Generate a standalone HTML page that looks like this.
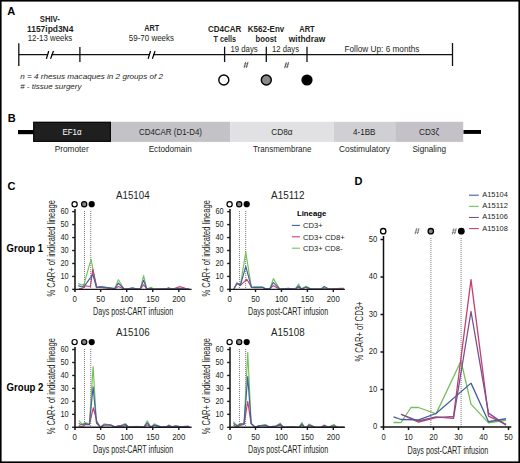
<!DOCTYPE html>
<html><head><meta charset="utf-8"><style>
html,body{margin:0;padding:0;background:#fff;}
body{width:520px;height:463px;overflow:hidden;}
svg{display:block;font-family:"Liberation Sans", sans-serif;}
</style></head><body>
<svg width="520" height="463" viewBox="0 0 520 463">
<rect width="520" height="463" fill="#fff"/>
<text x="7.2" y="14.9" font-size="11" font-weight="bold" fill="#000">A</text>
<text x="49.8" y="22.0" font-size="8.2" text-anchor="middle" font-weight="bold" textLength="20" lengthAdjust="spacingAndGlyphs" fill="#231f20">SHIV-</text>
<text x="50.2" y="32.3" font-size="8.2" text-anchor="middle" font-weight="bold" textLength="46.4" lengthAdjust="spacingAndGlyphs" fill="#231f20">1157ipd3N4</text>
<text x="50.0" y="41.2" font-size="8.2" text-anchor="middle" textLength="44.6" lengthAdjust="spacingAndGlyphs" fill="#231f20">12-13 weeks</text>
<text x="151.7" y="31.4" font-size="8.2" text-anchor="middle" font-weight="bold" textLength="15" lengthAdjust="spacingAndGlyphs" fill="#231f20">ART</text>
<text x="151.4" y="41.2" font-size="8.2" text-anchor="middle" textLength="45.2" lengthAdjust="spacingAndGlyphs" fill="#231f20">59-70 weeks</text>
<text x="224.7" y="32.3" font-size="8.2" text-anchor="middle" font-weight="bold" textLength="33.3" lengthAdjust="spacingAndGlyphs" fill="#231f20">CD4CAR</text>
<text x="224.8" y="42.0" font-size="8.2" text-anchor="middle" font-weight="bold" textLength="22.5" lengthAdjust="spacingAndGlyphs" fill="#231f20">T cells</text>
<text x="266.0" y="32.3" font-size="8.2" text-anchor="middle" font-weight="bold" textLength="36.5" lengthAdjust="spacingAndGlyphs" fill="#231f20">K562-Env</text>
<text x="266.0" y="42.0" font-size="8.2" text-anchor="middle" font-weight="bold" textLength="21.1" lengthAdjust="spacingAndGlyphs" fill="#231f20">boost</text>
<text x="307.0" y="32.3" font-size="8.2" text-anchor="middle" font-weight="bold" textLength="15.4" lengthAdjust="spacingAndGlyphs" fill="#231f20">ART</text>
<text x="307.0" y="42.0" font-size="8.2" text-anchor="middle" font-weight="bold" textLength="36.5" lengthAdjust="spacingAndGlyphs" fill="#231f20">withdraw</text>
<text x="230.4" y="51.6" font-size="8.2" textLength="27.3" lengthAdjust="spacingAndGlyphs" fill="#231f20">19 days</text>
<text x="272.0" y="51.6" font-size="8.2" textLength="27.0" lengthAdjust="spacingAndGlyphs" fill="#231f20">12 days</text>
<text x="344.5" y="51.7" font-size="8.2" textLength="75.0" lengthAdjust="spacingAndGlyphs" fill="#231f20">Follow Up: 6 months</text>
<g stroke="#111" stroke-width="1.3" fill="none">
<line x1="18.8" y1="54.7" x2="452.5" y2="54.7"/>
<line x1="18.8" y1="43.2" x2="18.8" y2="65.9"/>
<line x1="79.9" y1="47" x2="79.9" y2="62"/>
<line x1="224.6" y1="46.7" x2="224.6" y2="62"/>
<line x1="266.3" y1="46.7" x2="266.3" y2="62"/>
<line x1="307" y1="46.7" x2="307" y2="62"/>
<line x1="452.5" y1="43" x2="452.5" y2="66"/>
</g>
<rect x="48.15" y="52.5" width="3.28" height="4.4" fill="#fff"/>
<g stroke="#000" stroke-width="1.25" stroke-linecap="round"><line x1="46.5" y1="58.4" x2="48.6" y2="51.5"/><line x1="50.75" y1="58.4" x2="53.3" y2="51.5"/></g>
<rect x="149.92" y="52.5" width="3.17" height="4.4" fill="#fff"/>
<g stroke="#000" stroke-width="1.25" stroke-linecap="round"><line x1="148.25" y1="58.4" x2="150.4" y2="51.5"/><line x1="152.5" y1="58.4" x2="154.9" y2="51.5"/></g>
<g stroke="#555" stroke-width="0.95" fill="none"><line x1="244.10" y1="67.90" x2="245.80" y2="61.90"/><line x1="246.30" y1="67.90" x2="248.00" y2="61.90"/><line x1="244.10" y1="63.80" x2="248.40" y2="63.80" stroke-width="0.6"/><line x1="243.60" y1="66.10" x2="247.90" y2="66.10" stroke-width="0.6"/></g>
<g stroke="#555" stroke-width="0.95" fill="none"><line x1="284.70" y1="68.20" x2="286.40" y2="62.20"/><line x1="286.90" y1="68.20" x2="288.60" y2="62.20"/><line x1="284.70" y1="64.10" x2="289.00" y2="64.10" stroke-width="0.6"/><line x1="284.20" y1="66.40" x2="288.50" y2="66.40" stroke-width="0.6"/></g>
<circle cx="223.8" cy="80" r="5" fill="#fff" stroke="#000" stroke-width="1.4"/>
<circle cx="266.3" cy="80" r="5" fill="#888" stroke="#000" stroke-width="1.4"/>
<circle cx="307" cy="80" r="5.6" fill="#000"/>
<text x="20.2" y="79.0" font-size="7.6" font-style="italic" textLength="142.8" lengthAdjust="spacingAndGlyphs" fill="#231f20">n = 4 rhesus macaques in 2 groups of 2</text>
<text x="20.2" y="88.8" font-size="7.6" font-style="italic" textLength="61.3" lengthAdjust="spacingAndGlyphs" fill="#231f20"># - tissue surgery</text>
<text x="7.8" y="122.3" font-size="11" font-weight="bold" fill="#000">B</text>
<rect x="18" y="130" width="16" height="4.2" fill="#000"/>
<rect x="463.4" y="130" width="17.6" height="3.9" fill="#000"/>
<rect x="33.2" y="121.8" width="77.80" height="20.1" fill="#1f1f1f"/>
<rect x="111" y="121.8" width="119.20" height="20.1" fill="#c3c2c7"/>
<rect x="230.2" y="121.8" width="103.80" height="20.1" fill="#e1e1e4"/>
<rect x="334.0" y="121.8" width="61.20" height="20.1" fill="#d0cfd4"/>
<rect x="395.2" y="121.8" width="68.00" height="20.1" fill="#c4c2c8"/>
<rect x="33.8" y="122.4" width="76.6" height="18.9" fill="none" stroke="#0a0a0a" stroke-width="1.2"/>
<text x="72.0" y="134.8" font-size="8.7" text-anchor="middle" textLength="19" lengthAdjust="spacingAndGlyphs" fill="#fff">EF1&#945;</text>
<text x="170.5" y="134.8" font-size="8.7" text-anchor="middle" textLength="63" lengthAdjust="spacingAndGlyphs" fill="#231f20">CD4CAR (D1-D4)</text>
<text x="282.0" y="134.8" font-size="8.7" text-anchor="middle" textLength="21.3" lengthAdjust="spacingAndGlyphs" fill="#231f20">CD8&#945;</text>
<text x="364.2" y="134.8" font-size="8.7" text-anchor="middle" textLength="22.5" lengthAdjust="spacingAndGlyphs" fill="#231f20">4-1BB</text>
<text x="429.0" y="134.8" font-size="8.7" text-anchor="middle" textLength="20" lengthAdjust="spacingAndGlyphs" fill="#231f20">CD3&#950;</text>
<text x="71.7" y="151.6" font-size="8.7" text-anchor="middle" textLength="34.1" lengthAdjust="spacingAndGlyphs" fill="#231f20">Promoter</text>
<text x="170.2" y="151.6" font-size="8.7" text-anchor="middle" textLength="43.1" lengthAdjust="spacingAndGlyphs" fill="#231f20">Ectodomain</text>
<text x="282.2" y="151.6" font-size="8.7" text-anchor="middle" textLength="58.4" lengthAdjust="spacingAndGlyphs" fill="#231f20">Transmembrane</text>
<text x="364.5" y="151.6" font-size="8.7" text-anchor="middle" textLength="51" lengthAdjust="spacingAndGlyphs" fill="#231f20">Costimulatory</text>
<text x="429.2" y="151.6" font-size="8.7" text-anchor="middle" textLength="33.5" lengthAdjust="spacingAndGlyphs" fill="#231f20">Signaling</text>
<text x="7.5" y="189.6" font-size="11" font-weight="bold" fill="#000">C</text>
<text x="6.6" y="252.2" font-size="10.4" font-weight="bold" textLength="36.4" lengthAdjust="spacingAndGlyphs" fill="#000">Group 1</text>
<text x="6.6" y="391.1" font-size="10.4" font-weight="bold" textLength="36.8" lengthAdjust="spacingAndGlyphs" fill="#000">Group 2</text>
<text x="132.8" y="198.8" font-size="10" text-anchor="middle" textLength="33.6" lengthAdjust="spacingAndGlyphs" fill="#231f20">A15104</text>
<text transform="translate(54.6,248.3) rotate(-90)" x="0" y="0" font-size="10.2" text-anchor="middle" textLength="96.3" lengthAdjust="spacingAndGlyphs" fill="#231f20">% CAR+ of indicated lineage</text>
<g stroke="#666" stroke-width="0.9" stroke-dasharray="1 1">
<line x1="84.50" y1="211" x2="84.50" y2="289.40"/>
<line x1="90.75" y1="211" x2="90.75" y2="289.40"/>
</g>
<polyline points="78.25,283.44 81.37,284.86 83.98,284.35 91.06,259.20 96.48,287.46 99.87,286.55 114.72,288.62 118.36,279.68 124.09,289.01 126.70,289.01 132.43,288.36 140.25,289.01 143.63,275.66 146.76,289.01 150.93,287.33 153.79,289.01 168.64,288.62 171.51,289.14 179.32,288.36 185.05,289.01 189.22,289.14" fill="none" stroke="#78bf5a" stroke-width="1.15" stroke-linejoin="round"/>
<polyline points="78.77,288.75 82.21,288.36 85.18,285.77 90.39,286.55 92.78,269.31 96.85,287.33 99.87,287.33 114.72,288.88 118.36,286.55 124.09,289.01 126.70,289.14 132.43,288.75 140.25,289.14 143.63,284.73 146.76,289.01 150.93,288.75 153.79,289.14 168.64,288.75 173.59,288.88 179.32,286.68 184.01,287.72 186.62,289.14 189.22,289.14" fill="none" stroke="#c3416a" stroke-width="1.15" stroke-linejoin="round"/>
<polyline points="78.25,285.64 81.89,286.94 85.02,285.12 92.83,274.37 96.48,287.72 99.87,286.68 114.72,288.62 118.36,283.18 124.09,289.01 126.70,289.01 132.43,287.72 137.12,289.14 140.25,289.01 143.63,280.33 146.76,289.01 150.93,288.62 153.79,289.01 165.77,289.01 168.64,287.84 171.51,289.01 179.32,288.62 185.05,288.88 189.22,289.14" fill="none" stroke="#41609f" stroke-width="1.15" stroke-linejoin="round"/>
<g stroke="#2a2a2a" stroke-width="1.7" fill="none">
<line x1="75.0" y1="209.00" x2="75.0" y2="292.0"/>
</g>
<g stroke="#1a1a1a" stroke-width="1.4" fill="none">
<line x1="74.5" y1="289.4" x2="191.6" y2="289.4"/>
<line x1="72.2" y1="289.40" x2="75.0" y2="289.40"/>
<line x1="72.2" y1="276.44" x2="75.0" y2="276.44"/>
<line x1="72.2" y1="263.48" x2="75.0" y2="263.48"/>
<line x1="72.2" y1="250.52" x2="75.0" y2="250.52"/>
<line x1="72.2" y1="237.56" x2="75.0" y2="237.56"/>
<line x1="72.2" y1="224.60" x2="75.0" y2="224.60"/>
<line x1="72.2" y1="211.64" x2="75.0" y2="211.64"/>
<line x1="100.65" y1="289.4" x2="100.65" y2="292.0"/>
<line x1="126.70" y1="289.4" x2="126.70" y2="292.0"/>
<line x1="152.75" y1="289.4" x2="152.75" y2="292.0"/>
<line x1="178.80" y1="289.4" x2="178.80" y2="292.0"/>
</g>
<text x="68.70" y="292.00" font-size="8.6" text-anchor="end" textLength="4.1" lengthAdjust="spacingAndGlyphs" fill="#231f20">0</text>
<text x="68.70" y="279.04" font-size="8.6" text-anchor="end" textLength="8.2" lengthAdjust="spacingAndGlyphs" fill="#231f20">10</text>
<text x="68.70" y="266.08" font-size="8.6" text-anchor="end" textLength="8.2" lengthAdjust="spacingAndGlyphs" fill="#231f20">20</text>
<text x="68.70" y="253.12" font-size="8.6" text-anchor="end" textLength="8.2" lengthAdjust="spacingAndGlyphs" fill="#231f20">30</text>
<text x="68.70" y="240.16" font-size="8.6" text-anchor="end" textLength="8.2" lengthAdjust="spacingAndGlyphs" fill="#231f20">40</text>
<text x="68.70" y="227.20" font-size="8.6" text-anchor="end" textLength="8.2" lengthAdjust="spacingAndGlyphs" fill="#231f20">50</text>
<text x="68.70" y="214.24" font-size="8.6" text-anchor="end" textLength="8.2" lengthAdjust="spacingAndGlyphs" fill="#231f20">60</text>
<text x="74.60" y="302.20" font-size="8.6" text-anchor="middle" textLength="4.35" lengthAdjust="spacingAndGlyphs" fill="#231f20">0</text>
<text x="100.65" y="302.20" font-size="8.6" text-anchor="middle" textLength="8.7" lengthAdjust="spacingAndGlyphs" fill="#231f20">50</text>
<text x="126.70" y="302.20" font-size="8.6" text-anchor="middle" textLength="13.049999999999999" lengthAdjust="spacingAndGlyphs" fill="#231f20">100</text>
<text x="152.75" y="302.20" font-size="8.6" text-anchor="middle" textLength="13.049999999999999" lengthAdjust="spacingAndGlyphs" fill="#231f20">150</text>
<text x="178.80" y="302.20" font-size="8.6" text-anchor="middle" textLength="13.049999999999999" lengthAdjust="spacingAndGlyphs" fill="#231f20">200</text>
<text x="93.00" y="315.10" font-size="10.2" textLength="80.3" lengthAdjust="spacingAndGlyphs" fill="#231f20">Days post-CART infusion</text>
<circle cx="74.6" cy="204.2" r="2.6" fill="#fff" stroke="#000" stroke-width="1.2"/>
<circle cx="84.20" cy="204.2" r="2.6" fill="#888" stroke="#000" stroke-width="1.2"/>
<circle cx="91.70" cy="204.2" r="3.1" fill="#000"/>
<text x="287.8" y="198.8" font-size="10" text-anchor="middle" textLength="33.6" lengthAdjust="spacingAndGlyphs" fill="#231f20">A15112</text>
<text transform="translate(209.6,248.3) rotate(-90)" x="0" y="0" font-size="10.2" text-anchor="middle" textLength="96.3" lengthAdjust="spacingAndGlyphs" fill="#231f20">% CAR+ of indicated lineage</text>
<g stroke="#666" stroke-width="0.9" stroke-dasharray="1 1">
<line x1="239.45" y1="211" x2="239.45" y2="289.40"/>
<line x1="245.67" y1="211" x2="245.67" y2="289.40"/>
</g>
<polyline points="233.90,288.75 236.96,283.05 240.38,285.38 245.78,252.20 251.38,287.46 254.33,286.94 262.63,286.94 265.48,288.88 269.78,288.88 273.36,278.64 279.84,289.14 288.55,288.49 295.19,289.01 298.56,284.09 301.46,289.01 305.98,286.29 311.00,289.01 321.37,289.01 324.12,288.10 328.43,288.88 343.67,289.14" fill="none" stroke="#78bf5a" stroke-width="1.15" stroke-linejoin="round"/>
<polyline points="233.90,288.75 236.96,283.44 240.38,285.38 246.71,279.29 251.90,287.33 254.33,287.59 262.63,287.59 265.48,288.88 269.78,288.88 273.36,285.64 279.84,289.14 295.19,289.01 298.56,287.59 301.46,289.01 305.98,287.33 311.00,289.01 328.43,289.01 341.08,288.36 343.67,288.36" fill="none" stroke="#c3416a" stroke-width="1.15" stroke-linejoin="round"/>
<polyline points="233.90,288.75 236.96,283.05 240.38,285.38 245.78,266.33 251.38,287.46 254.33,287.33 262.63,287.33 265.48,288.88 269.78,288.88 273.36,282.53 279.84,289.14 288.55,288.36 295.19,289.01 298.56,286.29 301.46,289.01 305.98,287.33 311.00,289.01 321.37,289.01 324.12,286.55 328.43,288.88 343.67,289.14" fill="none" stroke="#41609f" stroke-width="1.15" stroke-linejoin="round"/>
<g stroke="#2a2a2a" stroke-width="1.7" fill="none">
<line x1="230.0" y1="209.00" x2="230.0" y2="292.0"/>
</g>
<g stroke="#1a1a1a" stroke-width="1.4" fill="none">
<line x1="229.5" y1="289.4" x2="344.9" y2="289.4"/>
<line x1="227.2" y1="289.40" x2="230.0" y2="289.40"/>
<line x1="227.2" y1="276.44" x2="230.0" y2="276.44"/>
<line x1="227.2" y1="263.48" x2="230.0" y2="263.48"/>
<line x1="227.2" y1="250.52" x2="230.0" y2="250.52"/>
<line x1="227.2" y1="237.56" x2="230.0" y2="237.56"/>
<line x1="227.2" y1="224.60" x2="230.0" y2="224.60"/>
<line x1="227.2" y1="211.64" x2="230.0" y2="211.64"/>
<line x1="255.52" y1="289.4" x2="255.52" y2="292.0"/>
<line x1="281.45" y1="289.4" x2="281.45" y2="292.0"/>
<line x1="307.38" y1="289.4" x2="307.38" y2="292.0"/>
<line x1="333.30" y1="289.4" x2="333.30" y2="292.0"/>
</g>
<text x="223.70" y="292.00" font-size="8.6" text-anchor="end" textLength="4.1" lengthAdjust="spacingAndGlyphs" fill="#231f20">0</text>
<text x="223.70" y="279.04" font-size="8.6" text-anchor="end" textLength="8.2" lengthAdjust="spacingAndGlyphs" fill="#231f20">10</text>
<text x="223.70" y="266.08" font-size="8.6" text-anchor="end" textLength="8.2" lengthAdjust="spacingAndGlyphs" fill="#231f20">20</text>
<text x="223.70" y="253.12" font-size="8.6" text-anchor="end" textLength="8.2" lengthAdjust="spacingAndGlyphs" fill="#231f20">30</text>
<text x="223.70" y="240.16" font-size="8.6" text-anchor="end" textLength="8.2" lengthAdjust="spacingAndGlyphs" fill="#231f20">40</text>
<text x="223.70" y="227.20" font-size="8.6" text-anchor="end" textLength="8.2" lengthAdjust="spacingAndGlyphs" fill="#231f20">50</text>
<text x="223.70" y="214.24" font-size="8.6" text-anchor="end" textLength="8.2" lengthAdjust="spacingAndGlyphs" fill="#231f20">60</text>
<text x="229.60" y="302.20" font-size="8.6" text-anchor="middle" textLength="4.35" lengthAdjust="spacingAndGlyphs" fill="#231f20">0</text>
<text x="255.52" y="302.20" font-size="8.6" text-anchor="middle" textLength="8.7" lengthAdjust="spacingAndGlyphs" fill="#231f20">50</text>
<text x="281.45" y="302.20" font-size="8.6" text-anchor="middle" textLength="13.049999999999999" lengthAdjust="spacingAndGlyphs" fill="#231f20">100</text>
<text x="307.38" y="302.20" font-size="8.6" text-anchor="middle" textLength="13.049999999999999" lengthAdjust="spacingAndGlyphs" fill="#231f20">150</text>
<text x="333.30" y="302.20" font-size="8.6" text-anchor="middle" textLength="13.049999999999999" lengthAdjust="spacingAndGlyphs" fill="#231f20">200</text>
<text x="248.00" y="315.10" font-size="10.2" textLength="80.3" lengthAdjust="spacingAndGlyphs" fill="#231f20">Days post-CART infusion</text>
<circle cx="229.6" cy="204.2" r="2.6" fill="#fff" stroke="#000" stroke-width="1.2"/>
<circle cx="239.20" cy="204.2" r="2.6" fill="#888" stroke="#000" stroke-width="1.2"/>
<circle cx="246.70" cy="204.2" r="3.1" fill="#000"/>
<text x="297" y="216.2" font-size="7.6" font-weight="bold" textLength="29.2" lengthAdjust="spacingAndGlyphs" fill="#000">Lineage</text>
<line x1="291.9" y1="225.4" x2="299.9" y2="225.4" stroke="#41609f" stroke-width="1.1"/>
<text x="303" y="228.2" font-size="7.6" textLength="19.7" lengthAdjust="spacingAndGlyphs" fill="#231f20">CD3+</text>
<line x1="291.9" y1="236.8" x2="299.9" y2="236.8" stroke="#c3416a" stroke-width="1.1"/>
<text x="303" y="239.6" font-size="7.6" textLength="41.7" lengthAdjust="spacingAndGlyphs" fill="#231f20">CD3+ CD8+</text>
<line x1="291.9" y1="248.2" x2="299.9" y2="248.2" stroke="#78bf5a" stroke-width="1.1"/>
<text x="303" y="251.0" font-size="7.6" textLength="39.5" lengthAdjust="spacingAndGlyphs" fill="#231f20">CD3+ CD8-</text>
<text x="132.8" y="336.4" font-size="10" text-anchor="middle" textLength="33.6" lengthAdjust="spacingAndGlyphs" fill="#231f20">A15106</text>
<text transform="translate(54.6,386.20000000000005) rotate(-90)" x="0" y="0" font-size="10.2" text-anchor="middle" textLength="96.3" lengthAdjust="spacingAndGlyphs" fill="#231f20">% CAR+ of indicated lineage</text>
<g stroke="#666" stroke-width="0.9" stroke-dasharray="1 1">
<line x1="84.50" y1="349" x2="84.50" y2="427.30"/>
<line x1="90.75" y1="349" x2="90.75" y2="427.30"/>
</g>
<polyline points="78.72,420.69 82.21,424.19 85.54,422.63 89.34,424.19 93.10,366.52 96.48,423.28 100.34,427.17 104.04,423.93 110.55,424.97 115.24,426.91 118.68,426.52 125.40,423.54 128.78,427.17 136.60,426.26 143.79,427.17 147.28,420.82 150.77,427.17 154.31,423.80 160.83,426.91 166.30,427.04 168.80,426.52 171.82,426.78 175.83,426.13 180.78,426.78 187.66,426.52 189.22,426.78" fill="none" stroke="#78bf5a" stroke-width="1.15" stroke-linejoin="round"/>
<polyline points="78.72,425.62 82.21,427.04 85.54,424.45 89.34,424.71 93.36,407.73 97.16,422.12 100.34,427.17 104.04,424.97 110.55,424.97 115.24,426.91 118.68,425.62 121.49,426.52 125.40,425.62 128.78,427.17 143.79,427.17 147.28,424.84 150.77,427.17 154.31,425.36 160.83,426.91 166.30,427.04 168.80,425.10 171.82,426.78 180.78,426.78 187.66,426.13 189.22,426.52" fill="none" stroke="#c3416a" stroke-width="1.15" stroke-linejoin="round"/>
<polyline points="78.72,423.41 82.21,424.97 85.54,423.54 89.34,424.71 93.10,386.74 96.48,422.76 100.34,427.17 104.04,424.97 110.55,424.97 115.24,426.91 118.68,426.26 125.40,424.45 128.78,427.17 136.60,426.91 143.79,427.17 147.28,422.76 150.77,427.17 154.31,424.97 160.83,426.91 166.30,427.04 168.80,425.87 171.82,426.78 175.83,425.74 180.78,426.78 187.66,426.65 189.22,426.78" fill="none" stroke="#41609f" stroke-width="1.15" stroke-linejoin="round"/>
<g stroke="#2a2a2a" stroke-width="1.7" fill="none">
<line x1="75.0" y1="346.90" x2="75.0" y2="429.9"/>
</g>
<g stroke="#1a1a1a" stroke-width="1.4" fill="none">
<line x1="74.5" y1="427.29999999999995" x2="191.6" y2="427.29999999999995"/>
<line x1="72.2" y1="427.30" x2="75.0" y2="427.30"/>
<line x1="72.2" y1="414.34" x2="75.0" y2="414.34"/>
<line x1="72.2" y1="401.38" x2="75.0" y2="401.38"/>
<line x1="72.2" y1="388.42" x2="75.0" y2="388.42"/>
<line x1="72.2" y1="375.46" x2="75.0" y2="375.46"/>
<line x1="72.2" y1="362.50" x2="75.0" y2="362.50"/>
<line x1="72.2" y1="349.54" x2="75.0" y2="349.54"/>
<line x1="100.65" y1="427.29999999999995" x2="100.65" y2="429.9"/>
<line x1="126.70" y1="427.29999999999995" x2="126.70" y2="429.9"/>
<line x1="152.75" y1="427.29999999999995" x2="152.75" y2="429.9"/>
<line x1="178.80" y1="427.29999999999995" x2="178.80" y2="429.9"/>
</g>
<text x="68.70" y="429.90" font-size="8.6" text-anchor="end" textLength="4.1" lengthAdjust="spacingAndGlyphs" fill="#231f20">0</text>
<text x="68.70" y="416.94" font-size="8.6" text-anchor="end" textLength="8.2" lengthAdjust="spacingAndGlyphs" fill="#231f20">10</text>
<text x="68.70" y="403.98" font-size="8.6" text-anchor="end" textLength="8.2" lengthAdjust="spacingAndGlyphs" fill="#231f20">20</text>
<text x="68.70" y="391.02" font-size="8.6" text-anchor="end" textLength="8.2" lengthAdjust="spacingAndGlyphs" fill="#231f20">30</text>
<text x="68.70" y="378.06" font-size="8.6" text-anchor="end" textLength="8.2" lengthAdjust="spacingAndGlyphs" fill="#231f20">40</text>
<text x="68.70" y="365.10" font-size="8.6" text-anchor="end" textLength="8.2" lengthAdjust="spacingAndGlyphs" fill="#231f20">50</text>
<text x="68.70" y="352.14" font-size="8.6" text-anchor="end" textLength="8.2" lengthAdjust="spacingAndGlyphs" fill="#231f20">60</text>
<text x="74.60" y="440.10" font-size="8.6" text-anchor="middle" textLength="4.35" lengthAdjust="spacingAndGlyphs" fill="#231f20">0</text>
<text x="100.65" y="440.10" font-size="8.6" text-anchor="middle" textLength="8.7" lengthAdjust="spacingAndGlyphs" fill="#231f20">50</text>
<text x="126.70" y="440.10" font-size="8.6" text-anchor="middle" textLength="13.049999999999999" lengthAdjust="spacingAndGlyphs" fill="#231f20">100</text>
<text x="152.75" y="440.10" font-size="8.6" text-anchor="middle" textLength="13.049999999999999" lengthAdjust="spacingAndGlyphs" fill="#231f20">150</text>
<text x="178.80" y="440.10" font-size="8.6" text-anchor="middle" textLength="13.049999999999999" lengthAdjust="spacingAndGlyphs" fill="#231f20">200</text>
<text x="93.00" y="453.00" font-size="10.2" textLength="80.3" lengthAdjust="spacingAndGlyphs" fill="#231f20">Days post-CART infusion</text>
<circle cx="74.6" cy="342.09999999999997" r="2.6" fill="#fff" stroke="#000" stroke-width="1.2"/>
<circle cx="84.20" cy="342.09999999999997" r="2.6" fill="#888" stroke="#000" stroke-width="1.2"/>
<circle cx="91.70" cy="342.09999999999997" r="3.1" fill="#000"/>
<text x="287.8" y="336.4" font-size="10" text-anchor="middle" textLength="33.6" lengthAdjust="spacingAndGlyphs" fill="#231f20">A15108</text>
<text transform="translate(209.6,386.20000000000005) rotate(-90)" x="0" y="0" font-size="10.2" text-anchor="middle" textLength="96.3" lengthAdjust="spacingAndGlyphs" fill="#231f20">% CAR+ of indicated lineage</text>
<g stroke="#666" stroke-width="0.9" stroke-dasharray="1 1">
<line x1="239.45" y1="349" x2="239.45" y2="427.30"/>
<line x1="245.67" y1="349" x2="245.67" y2="427.30"/>
</g>
<polyline points="233.39,421.60 237.17,425.62 240.33,423.54 244.01,423.93 247.75,352.52 251.17,423.54 255.21,427.30 258.90,425.87 260.61,425.62 265.38,424.58 269.11,426.78 275.90,426.00 280.15,423.15 283.52,427.30 291.20,426.52 299.08,427.30 301.83,422.63 304.58,427.30 306.60,427.30 309.09,424.06 314.53,427.04 320.96,427.30 323.97,426.26 328.43,427.04 333.87,424.58 337.40,427.30 343.67,427.30" fill="none" stroke="#78bf5a" stroke-width="1.15" stroke-linejoin="round"/>
<polyline points="233.39,425.36 237.17,427.04 240.33,425.36 244.01,424.45 247.75,401.38 251.17,423.93 255.21,427.30 258.90,425.87 260.61,425.62 265.38,425.74 269.11,426.78 275.90,426.26 280.15,425.10 283.52,427.30 299.08,427.30 301.83,425.62 304.58,427.30 306.60,427.30 309.09,425.62 314.53,427.04 320.96,427.30 323.97,425.10 328.43,427.04 333.87,426.00 337.40,427.30 343.67,427.30" fill="none" stroke="#c3416a" stroke-width="1.15" stroke-linejoin="round"/>
<polyline points="233.39,423.54 237.17,425.87 240.33,424.19 244.01,423.93 247.75,376.63 251.17,423.54 255.21,427.30 258.90,425.87 260.61,425.62 265.38,425.36 269.11,426.78 275.90,426.00 280.15,424.19 283.52,427.30 291.20,427.04 299.08,427.30 301.83,424.06 304.58,427.30 306.60,427.30 309.09,424.97 314.53,427.04 320.96,427.30 323.97,426.00 328.43,427.04 333.87,425.74 337.40,427.30 343.67,427.30" fill="none" stroke="#41609f" stroke-width="1.15" stroke-linejoin="round"/>
<g stroke="#2a2a2a" stroke-width="1.7" fill="none">
<line x1="230.0" y1="346.90" x2="230.0" y2="429.9"/>
</g>
<g stroke="#1a1a1a" stroke-width="1.4" fill="none">
<line x1="229.5" y1="427.29999999999995" x2="344.9" y2="427.29999999999995"/>
<line x1="227.2" y1="427.30" x2="230.0" y2="427.30"/>
<line x1="227.2" y1="414.34" x2="230.0" y2="414.34"/>
<line x1="227.2" y1="401.38" x2="230.0" y2="401.38"/>
<line x1="227.2" y1="388.42" x2="230.0" y2="388.42"/>
<line x1="227.2" y1="375.46" x2="230.0" y2="375.46"/>
<line x1="227.2" y1="362.50" x2="230.0" y2="362.50"/>
<line x1="227.2" y1="349.54" x2="230.0" y2="349.54"/>
<line x1="255.52" y1="427.29999999999995" x2="255.52" y2="429.9"/>
<line x1="281.45" y1="427.29999999999995" x2="281.45" y2="429.9"/>
<line x1="307.38" y1="427.29999999999995" x2="307.38" y2="429.9"/>
<line x1="333.30" y1="427.29999999999995" x2="333.30" y2="429.9"/>
</g>
<text x="223.70" y="429.90" font-size="8.6" text-anchor="end" textLength="4.1" lengthAdjust="spacingAndGlyphs" fill="#231f20">0</text>
<text x="223.70" y="416.94" font-size="8.6" text-anchor="end" textLength="8.2" lengthAdjust="spacingAndGlyphs" fill="#231f20">10</text>
<text x="223.70" y="403.98" font-size="8.6" text-anchor="end" textLength="8.2" lengthAdjust="spacingAndGlyphs" fill="#231f20">20</text>
<text x="223.70" y="391.02" font-size="8.6" text-anchor="end" textLength="8.2" lengthAdjust="spacingAndGlyphs" fill="#231f20">30</text>
<text x="223.70" y="378.06" font-size="8.6" text-anchor="end" textLength="8.2" lengthAdjust="spacingAndGlyphs" fill="#231f20">40</text>
<text x="223.70" y="365.10" font-size="8.6" text-anchor="end" textLength="8.2" lengthAdjust="spacingAndGlyphs" fill="#231f20">50</text>
<text x="223.70" y="352.14" font-size="8.6" text-anchor="end" textLength="8.2" lengthAdjust="spacingAndGlyphs" fill="#231f20">60</text>
<text x="229.60" y="440.10" font-size="8.6" text-anchor="middle" textLength="4.35" lengthAdjust="spacingAndGlyphs" fill="#231f20">0</text>
<text x="255.52" y="440.10" font-size="8.6" text-anchor="middle" textLength="8.7" lengthAdjust="spacingAndGlyphs" fill="#231f20">50</text>
<text x="281.45" y="440.10" font-size="8.6" text-anchor="middle" textLength="13.049999999999999" lengthAdjust="spacingAndGlyphs" fill="#231f20">100</text>
<text x="307.38" y="440.10" font-size="8.6" text-anchor="middle" textLength="13.049999999999999" lengthAdjust="spacingAndGlyphs" fill="#231f20">150</text>
<text x="333.30" y="440.10" font-size="8.6" text-anchor="middle" textLength="13.049999999999999" lengthAdjust="spacingAndGlyphs" fill="#231f20">200</text>
<text x="248.00" y="453.00" font-size="10.2" textLength="80.3" lengthAdjust="spacingAndGlyphs" fill="#231f20">Days post-CART infusion</text>
<circle cx="229.6" cy="342.09999999999997" r="2.6" fill="#fff" stroke="#000" stroke-width="1.2"/>
<circle cx="239.20" cy="342.09999999999997" r="2.6" fill="#888" stroke="#000" stroke-width="1.2"/>
<circle cx="246.70" cy="342.09999999999997" r="3.1" fill="#000"/>
<text x="354.6" y="185.4" font-size="11" font-weight="bold" fill="#000">D</text>
<g stroke="#555" stroke-width="0.8" stroke-dasharray="1 1">
<line x1="430.90" y1="238" x2="430.90" y2="427.0"/>
<line x1="461.10" y1="238" x2="461.10" y2="427.0"/>
</g>
<polyline points="393.50,422.50 401.00,422.50 411.00,407.50 418.50,407.50 436.00,413.88 461.00,361.00 471.00,404.12 488.50,422.88 506.00,420.25" fill="none" stroke="#78bf5a" stroke-width="1.3" stroke-linejoin="round"/>
<polyline points="401.00,414.25 418.50,422.12 436.00,417.62 453.50,416.50 471.00,279.62 488.50,416.12 506.00,424.38" fill="none" stroke="#c3416a" stroke-width="1.3" stroke-linejoin="round"/>
<polyline points="401.00,414.25 418.50,421.00 436.00,416.88 453.50,418.38 471.00,311.50 488.50,413.12 506.00,425.12" fill="none" stroke="#7a4f93" stroke-width="1.3" stroke-linejoin="round"/>
<polyline points="393.50,416.88 401.00,419.50 418.50,419.88 436.00,413.50 471.00,383.12 488.50,421.75 506.00,418.75" fill="none" stroke="#41609f" stroke-width="1.3" stroke-linejoin="round"/>
<g stroke="#111" stroke-width="1.5" fill="none">
<line x1="383.5" y1="236" x2="383.5" y2="427.6"/>
<line x1="382.9" y1="427.0" x2="511.3" y2="427.0"/>
<line x1="380.5" y1="427.00" x2="383.5" y2="427.00"/>
<line x1="380.5" y1="389.50" x2="383.5" y2="389.50"/>
<line x1="380.5" y1="352.00" x2="383.5" y2="352.00"/>
<line x1="380.5" y1="314.50" x2="383.5" y2="314.50"/>
<line x1="380.5" y1="277.00" x2="383.5" y2="277.00"/>
<line x1="380.5" y1="239.50" x2="383.5" y2="239.50"/>
<line x1="383.50" y1="427.0" x2="383.50" y2="430.0"/>
<line x1="408.50" y1="427.0" x2="408.50" y2="430.0"/>
<line x1="433.50" y1="427.0" x2="433.50" y2="430.0"/>
<line x1="458.50" y1="427.0" x2="458.50" y2="430.0"/>
<line x1="483.50" y1="427.0" x2="483.50" y2="430.0"/>
<line x1="508.50" y1="427.0" x2="508.50" y2="430.0"/>
</g>
<text x="377.30" y="429.40" font-size="9.2" text-anchor="end" textLength="4.25" lengthAdjust="spacingAndGlyphs" fill="#231f20">0</text>
<text x="377.30" y="391.90" font-size="9.2" text-anchor="end" textLength="8.5" lengthAdjust="spacingAndGlyphs" fill="#231f20">10</text>
<text x="377.30" y="354.40" font-size="9.2" text-anchor="end" textLength="8.5" lengthAdjust="spacingAndGlyphs" fill="#231f20">20</text>
<text x="377.30" y="316.90" font-size="9.2" text-anchor="end" textLength="8.5" lengthAdjust="spacingAndGlyphs" fill="#231f20">30</text>
<text x="377.30" y="279.40" font-size="9.2" text-anchor="end" textLength="8.5" lengthAdjust="spacingAndGlyphs" fill="#231f20">40</text>
<text x="377.30" y="241.90" font-size="9.2" text-anchor="end" textLength="8.5" lengthAdjust="spacingAndGlyphs" fill="#231f20">50</text>
<text x="383.50" y="440.30" font-size="9.2" text-anchor="middle" textLength="4.25" lengthAdjust="spacingAndGlyphs" fill="#231f20">0</text>
<text x="408.50" y="440.30" font-size="9.2" text-anchor="middle" textLength="8.5" lengthAdjust="spacingAndGlyphs" fill="#231f20">10</text>
<text x="433.50" y="440.30" font-size="9.2" text-anchor="middle" textLength="8.5" lengthAdjust="spacingAndGlyphs" fill="#231f20">20</text>
<text x="458.50" y="440.30" font-size="9.2" text-anchor="middle" textLength="8.5" lengthAdjust="spacingAndGlyphs" fill="#231f20">30</text>
<text x="483.50" y="440.30" font-size="9.2" text-anchor="middle" textLength="8.5" lengthAdjust="spacingAndGlyphs" fill="#231f20">40</text>
<text x="508.50" y="440.30" font-size="9.2" text-anchor="middle" textLength="8.5" lengthAdjust="spacingAndGlyphs" fill="#231f20">50</text>
<text x="407.5" y="453.8" font-size="10.2" textLength="80.8" lengthAdjust="spacingAndGlyphs" fill="#231f20">Days post-CART infusion</text>
<text transform="translate(363.1,331.6) rotate(-90)" x="0" y="0" font-size="10.4" text-anchor="middle" textLength="60" lengthAdjust="spacingAndGlyphs" fill="#231f20">% CAR+ of CD3+</text>
<circle cx="383.2" cy="231.2" r="2.7" fill="#fff" stroke="#000" stroke-width="1.3"/>
<circle cx="430.8" cy="231.2" r="2.7" fill="#888" stroke="#000" stroke-width="1.3"/>
<circle cx="461.3" cy="231.2" r="3.4" fill="#000"/>
<g stroke="#777" stroke-width="0.95" fill="none"><line x1="415.10" y1="234.10" x2="416.80" y2="228.10"/><line x1="417.30" y1="234.10" x2="419.00" y2="228.10"/><line x1="415.10" y1="230.00" x2="419.40" y2="230.00" stroke-width="0.6"/><line x1="414.60" y1="232.30" x2="418.90" y2="232.30" stroke-width="0.6"/></g>
<g stroke="#777" stroke-width="0.95" fill="none"><line x1="452.30" y1="234.30" x2="454.00" y2="228.30"/><line x1="454.50" y1="234.30" x2="456.20" y2="228.30"/><line x1="452.30" y1="230.20" x2="456.60" y2="230.20" stroke-width="0.6"/><line x1="451.80" y1="232.50" x2="456.10" y2="232.50" stroke-width="0.6"/></g>
<line x1="469" y1="195.20" x2="478.8" y2="195.20" stroke="#41609f" stroke-width="1.1"/>
<text x="482.2" y="197.20" font-size="7.4" textLength="25.7" lengthAdjust="spacingAndGlyphs" fill="#231f20">A15104</text>
<line x1="469" y1="206.33" x2="478.8" y2="206.33" stroke="#78bf5a" stroke-width="1.1"/>
<text x="482.2" y="208.33" font-size="7.4" textLength="25.7" lengthAdjust="spacingAndGlyphs" fill="#231f20">A15112</text>
<line x1="469" y1="217.46" x2="478.8" y2="217.46" stroke="#7a4f93" stroke-width="1.1"/>
<text x="482.2" y="219.46" font-size="7.4" textLength="25.7" lengthAdjust="spacingAndGlyphs" fill="#231f20">A15106</text>
<line x1="469" y1="228.59" x2="478.8" y2="228.59" stroke="#c3416a" stroke-width="1.1"/>
<text x="482.2" y="230.59" font-size="7.4" textLength="25.7" lengthAdjust="spacingAndGlyphs" fill="#231f20">A15108</text>
<rect x="0.8" y="0.8" width="518.4" height="461.4" fill="none" stroke="#000" stroke-width="1.6"/>
</svg>
</body></html>
